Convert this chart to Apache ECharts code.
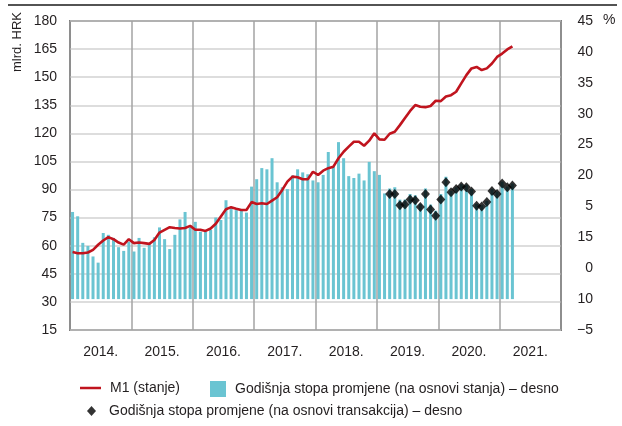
<!DOCTYPE html>
<html>
<head>
<meta charset="utf-8">
<script src="https://cdn.jsdelivr.net/npm/echarts@6/dist/echarts.min.js"></script>
<style>
  html, body { margin: 0; padding: 0; background: #fff; }
  #chart { width: 622px; height: 426px; }
</style>
</head>
<body>
<div id="chart"></div>
<script>
// Year captions along the bottom axis
const yearLabels = ['2014.', '2015.', '2016.', '2017.', '2018.', '2019.', '2020.', '2021.'];

// Right-hand tick captions, top to bottom, as printed
const rightTickLabels = ['45', '40', '35', '30', '25', '20', '5', '15', '0', '10', '−5'];

// M1 (stanje), mlrd. HRK, monthly Jan 2014 – Mar 2021
const m1Stock = [
  56.6, 56.0, 56.0, 56.4, 57.8, 60.5, 62.8, 64.6, 63.5, 61.7, 60.6, 63.5,
  61.4, 61.7, 61.4, 61.0, 63.1, 67.0, 68.5, 69.9, 69.5, 69.2, 69.5, 70.6,
  68.5, 68.5, 67.9, 69.2, 71.7, 75.6, 79.5, 80.6, 79.8, 79.1, 79.1, 83.3,
  82.3, 82.7, 82.3, 84.1, 85.9, 89.8, 94.2, 96.9, 96.6, 95.5, 95.5, 99.5,
  97.8, 100.1, 101.4, 102.2, 106.7, 110.2, 112.9, 115.5, 115.5, 113.4, 116.1, 120.0,
  116.8, 116.6, 119.8, 120.9, 124.4, 128.2, 132.0, 135.1, 134.2, 134.0, 134.6, 137.4,
  137.2, 139.7, 140.4, 142.2, 146.7, 151.1, 154.7, 155.5, 153.8, 154.7, 157.3, 160.8,
  162.6, 164.8, 166.5
];

// Godišnja stopa promjene (na osnovi stanja), %, Jan 2014 – Mar 2021
const rateStock = [
  14.1, 13.4, 9.1, 8.6, 6.9, 5.9, 10.7, 10.4, 9.9, 8.4, 7.8, 9.3,
  7.7, 9.9, 8.3, 8.9, 10.0, 11.6, 9.7, 8.1, 10.4, 12.9, 14.1, 11.6,
  12.5, 10.9, 10.9, 11.2, 13.2, 12.8, 16.0, 14.9, 14.4, 14.4, 14.0, 18.2,
  19.4, 21.2, 21.0, 22.8, 18.9, 18.1, 17.8, 20.0, 21.0, 20.5, 20.2, 19.2,
  18.9, 20.1, 23.8, 21.5, 25.4, 22.8, 19.9, 19.6, 20.3, 19.2, 22.2, 20.7,
  20.1, 17.1, 17.9, 18.1, 16.1, 16.1, 17.0, 16.8, 15.4, 17.9, 15.3, 14.3,
  17.0, 19.8, 17.5, 18.1, 18.6, 18.5, 17.8, 15.4, 15.2, 15.9, 17.8, 17.4,
  19.0, 18.2, 18.7
];

// Godišnja stopa promjene (na osnovi transakcija), %, Mar 2019 – Mar 2021
const rateTransStart = '2019-3';
const rateTrans = [
  17.0, 17.0, 15.2, 15.3, 16.1, 16.0, 14.9, 17.0, 14.5, 13.5,
  16.1, 18.9, 17.3, 17.8, 18.2, 18.1, 17.4, 15.1, 15.0, 15.7, 17.5, 17.0,
  18.7, 18.1, 18.4
];

// Monthly categories for the whole span of the axis (2014–2021)
const months = [];
for (let y = 2014; y <= 2021; y++) {
  for (let m = 1; m <= 12; m++) months.push(y + '-' + m);
}
const transOffset = months.indexOf(rateTransStart);
const transPoints = rateTrans.map((v, i) => [months[transOffset + i], v]);

const FONT = "'Liberation Sans', Arial, sans-serif";
const TXT = '#231f20';

const chart = echarts.init(document.getElementById('chart'), null, { renderer: 'canvas' });

chart.setOption({
  animation: false,
  backgroundColor: '#ffffff',
  textStyle: { fontFamily: FONT, color: TXT },
  grid: {
    left: 70, right: 61, top: 21, bottom: 96,
    show: true, borderColor: '#1a1a1a', borderWidth: 1.5,
    backgroundColor: 'transparent'
  },
  legend: [
    {
      data: [{ name: 'M1 (stanje)', icon: 'rect' }],
      left: 80, top: 381, padding: 0,
      itemWidth: 21, itemHeight: 2.5,
      textStyle: { fontFamily: FONT, fontSize: 14, color: TXT, padding: [0, 0, 0, 4] }
    },
    {
      data: [{ name: 'Godišnja stopa promjene (na osnovi stanja) – desno', icon: 'rect' }],
      left: 210, top: 381, padding: 0,
      itemWidth: 16, itemHeight: 16,
      textStyle: { fontFamily: FONT, fontSize: 14, color: TXT, padding: [0, 0, 0, 4] }
    },
    {
      data: [{ name: 'Godišnja stopa promjene (na osnovi transakcija) – desno', icon: 'diamond' }],
      left: 87, top: 404, padding: 0,
      itemWidth: 9, itemHeight: 10,
      textStyle: { fontFamily: FONT, fontSize: 14, color: TXT, padding: [0, 0, 0, 8] }
    }
  ],
  xAxis: [
    {
      type: 'category',
      data: months,
      boundaryGap: true,
      axisLine: { show: false },
      axisTick: { show: false },
      axisLabel: { show: false },
      splitLine: { show: false }
    },
    {
      type: 'category',
      data: yearLabels,
      position: 'bottom',
      boundaryGap: true,
      axisLine: { show: false },
      axisTick: { show: false },
      axisLabel: { fontFamily: FONT, fontSize: 14, color: TXT, margin: 15 },
      splitLine: { show: true, interval: 0, lineStyle: { color: '#a3a3a3', width: 1.5 } }
    }
  ],
  yAxis: [
    {
      type: 'value',
      min: 15, max: 180, interval: 15,
      position: 'left',
      axisLine: { show: false },
      axisTick: { show: false },
      axisLabel: { fontFamily: FONT, fontSize: 14, color: TXT, margin: 13 },
      splitLine: { show: true, lineStyle: { color: '#d2d2d2', width: 1.5 } }
    },
    {
      type: 'value',
      min: -5, max: 45, interval: 5,
      position: 'right',
      axisLine: { show: false },
      axisTick: { show: false },
      splitLine: { show: false },
      axisLabel: {
        fontFamily: FONT, fontSize: 14, color: TXT,
        align: 'right', margin: 32,
        formatter: v => rightTickLabels[Math.round((45 - v) / 5)]
      }
    }
  ],
  series: [
    {
      name: 'Godišnja stopa promjene (na osnovi stanja) – desno',
      type: 'bar',
      xAxisIndex: 0, yAxisIndex: 1,
      data: rateStock,
      barWidth: 3,
      itemStyle: { color: '#6ac4d2' },
      z: 2
    },
    {
      name: 'M1 (stanje)',
      type: 'line',
      xAxisIndex: 0, yAxisIndex: 0,
      data: m1Stock,
      showSymbol: false,
      symbol: 'none',
      lineStyle: { color: '#c0141e', width: 2.6 },
      itemStyle: { color: '#c0141e' },
      z: 3
    },
    {
      name: 'Godišnja stopa promjene (na osnovi transakcija) – desno',
      type: 'scatter',
      xAxisIndex: 0, yAxisIndex: 1,
      data: transPoints,
      symbol: 'diamond',
      symbolSize: [9, 10],
      itemStyle: { color: '#000000' },
      z: 4
    }
  ],
  graphic: [
    {
      type: 'line',
      shape: { x1: 8, y1: 5, x2: 617, y2: 5 },
      style: { stroke: '#1a1a1a', lineWidth: 1.5 }
    },
    {
      type: 'text',
      x: 17, y: 42,
      rotation: Math.PI / 2,
      style: {
        text: 'mlrd. HRK', fontFamily: FONT, fontSize: 13, fill: TXT,
        align: 'center', verticalAlign: 'middle'
      }
    },
    {
      type: 'text',
      x: 603, y: 20,
      style: {
        text: '%', fontFamily: FONT, fontSize: 14, fill: TXT,
        align: 'left', verticalAlign: 'middle'
      }
    }
  ]
});
</script>
</body>
</html>
